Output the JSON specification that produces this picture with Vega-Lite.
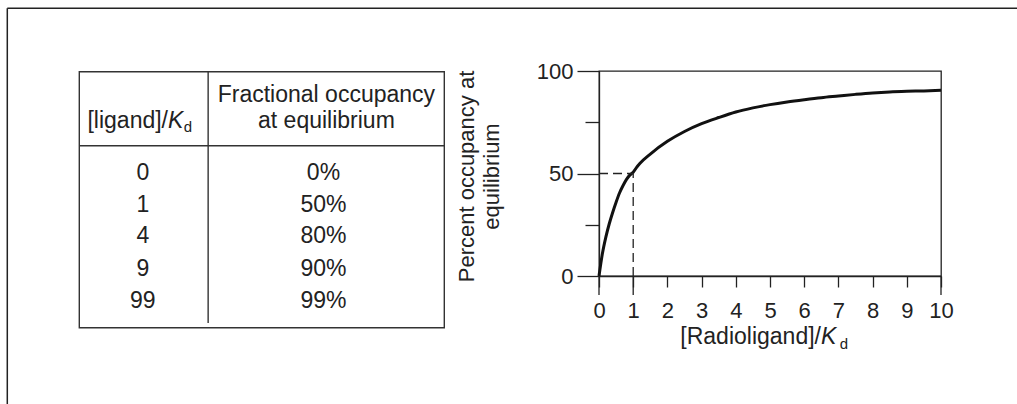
{
  "$schema": "https://vega.github.io/schema/vega-lite/v6.json",
  "width": 342,
  "height": 205,
  "autosize": "none",
  "padding": {"left": 599, "top": 71, "right": 76, "bottom": 128},
  "background": "white",
  "config": {
    "font": "Liberation Sans",
    "view": {"stroke": "#222", "strokeWidth": 1.3},
    "text": {"font": "Liberation Sans", "color": "#222"},
    "axis": {"labelOverlap": false, "labelSeparation": 0}
  },
  "datasets": {
    "curve": [
      {"x": 0, "y": 0}, {"x": 0.1, "y": 11}, {"x": 0.2, "y": 19}, {"x": 0.3, "y": 25.5},
      {"x": 0.4, "y": 31}, {"x": 0.5, "y": 36}, {"x": 0.6, "y": 40.5}, {"x": 0.7, "y": 44},
      {"x": 0.8, "y": 47}, {"x": 0.9, "y": 49.2}, {"x": 1, "y": 50.6}, {"x": 1.1, "y": 53},
      {"x": 1.2, "y": 55}, {"x": 1.5, "y": 59.5}, {"x": 2, "y": 65.7}, {"x": 2.5, "y": 70.5},
      {"x": 3, "y": 74.3}, {"x": 3.5, "y": 77.3}, {"x": 4, "y": 80}, {"x": 4.5, "y": 82},
      {"x": 5, "y": 83.6}, {"x": 5.5, "y": 84.9}, {"x": 6, "y": 86}, {"x": 6.5, "y": 87},
      {"x": 7, "y": 87.8}, {"x": 7.5, "y": 88.6}, {"x": 8, "y": 89.3}, {"x": 8.5, "y": 89.8},
      {"x": 9, "y": 90.1}, {"x": 9.5, "y": 90.3}, {"x": 10, "y": 90.6}
    ],
    "guides": [
      {"x": 0, "x2": 1, "y": 50, "y2": 50},
      {"x": 1, "x2": 1, "y": 0, "y2": 50}
    ],
    "longticks": [
      {"x": 0, "y": 0, "y2": -9.3},
      {"x": 1, "y": 0, "y2": -9.3},
      {"x": 10, "y": 0, "y2": -9.3}
    ],
    "xtitle_main": [{"x": 6.49, "y": -33.2, "text": "[Radioligand]/"}],
    "xtitle_k": [{"x": 6.49, "y": -33.2, "text": "K"}],
    "xtitle_d": [{"x": 7.04, "y": -35.6, "text": "d"}],
    "table_box": [{"x": 0, "x2": 100, "y": 0, "y2": 100}],
    "table_lines": [
      {"x": 0, "x2": 100, "y": 28.9, "y2": 28.9},
      {"x": 35.3, "x2": 35.3, "y": 0, "y2": 98.2}
    ],
    "table_cells": [
      {"x": 17.4, "y": 42.3, "text": "0"},
      {"x": 17.4, "y": 54.7, "text": "1"},
      {"x": 17.4, "y": 67.1, "text": "4"},
      {"x": 17.4, "y": 79.8, "text": "9"},
      {"x": 17.4, "y": 92.4, "text": "99"},
      {"x": 66.9, "y": 42.3, "text": "0%"},
      {"x": 66.9, "y": 54.7, "text": "50%"},
      {"x": 66.9, "y": 67.1, "text": "80%"},
      {"x": 66.9, "y": 79.8, "text": "90%"},
      {"x": 66.9, "y": 92.4, "text": "99%"},
      {"x": 67.7, "y": 11.7, "text": "Fractional occupancy"},
      {"x": 67.7, "y": 22.1, "text": "at equilibrium"}
    ],
    "table_head_main": [{"x": 24.3, "y": 22.1, "text": "[ligand]/"}],
    "table_head_k": [{"x": 24.3, "y": 22.1, "text": "K"}],
    "table_head_d": [{"x": 28.6, "y": 23.6, "text": "d"}],
    "frame": [
      {"x": 0, "x2": 1, "y": 0, "y2": 0},
      {"x": 0, "x2": 0, "y": 0, "y2": 1}
    ]
  },
  "layer": [
    {
      "layer": [
        {
          "data": {"name": "curve"},
          "mark": {"type": "line", "color": "#111", "strokeWidth": 3, "interpolate": "monotone"},
          "encoding": {
            "x": {
              "field": "x", "type": "quantitative",
              "scale": {"domain": [0, 10], "nice": false, "zero": false},
              "axis": {
                "values": [0, 1, 2, 3, 4, 5, 6, 7, 8, 9, 10],
                "tickCount": 11,
                "title": null,
                "grid": false,
                "domainColor": "#222", "domainWidth": 1.3,
                "tickColor": "#222", "tickWidth": 1.3,
                "tickSize": 11,
                "labelPadding": 13,
                "labelFont": "Liberation Sans", "labelFontSize": 22, "labelColor": "#222",
                "labelBaseline": "top",
                "labelFlush": false, "labelOverlap": false, "labelSeparation": 0, "labelBound": false
              }
            },
            "y": {
              "field": "y", "type": "quantitative",
              "scale": {"domain": [0, 100], "nice": false, "zero": false},
              "axis": {
                "values": [0, 25, 50, 75, 100],
                "labelExpr": "datum.value % 50 == 0 ? datum.label : ''",
                "grid": false,
                "domainColor": "#222", "domainWidth": 1.3,
                "tickColor": "#222", "tickWidth": 1.3,
                "tickSize": {"condition": {"test": "datum.value % 50 != 0", "value": 14}, "value": 22},
                "labelPadding": 4,
                "labelFont": "Liberation Sans", "labelFontSize": 22, "labelColor": "#222",
                "labelFlush": false, "labelOverlap": false,
                "title": ["Percent occupancy at", "equilibrium"],
                "titleFont": "Liberation Sans", "titleFontSize": 22, "titleFontWeight": "normal",
                "titleColor": "#222",
                "titleX": -132.5, "titleY": 105,
                "titleAngle": -90, "titleAlign": "center", "titleBaseline": "middle",
                "titleLineHeight": 25
              }
            }
          }
        },
        {
          "data": {"name": "guides"},
          "mark": {"type": "rule", "color": "#222", "strokeWidth": 1.3, "strokeDash": [9, 5]},
          "encoding": {
            "x": {"field": "x", "type": "quantitative"},
            "x2": {"field": "x2"},
            "y": {"field": "y", "type": "quantitative"},
            "y2": {"field": "y2"}
          }
        },
        {
          "data": {"name": "longticks"},
          "mark": {"type": "rule", "color": "#222", "strokeWidth": 1.3, "clip": false},
          "encoding": {
            "x": {"field": "x", "type": "quantitative"},
            "y": {"field": "y", "type": "quantitative"},
            "y2": {"field": "y2"}
          }
        },
        {
          "data": {"name": "xtitle_main"},
          "mark": {"type": "text", "fontSize": 23, "align": "right", "baseline": "alphabetic"},
          "encoding": {
            "x": {"field": "x", "type": "quantitative"},
            "y": {"field": "y", "type": "quantitative"},
            "text": {"field": "text"}
          }
        },
        {
          "data": {"name": "xtitle_k"},
          "mark": {"type": "text", "fontSize": 23, "fontStyle": "italic", "align": "left", "baseline": "alphabetic"},
          "encoding": {
            "x": {"field": "x", "type": "quantitative"},
            "y": {"field": "y", "type": "quantitative"},
            "text": {"field": "text"}
          }
        },
        {
          "data": {"name": "xtitle_d"},
          "mark": {"type": "text", "fontSize": 15, "align": "left", "baseline": "alphabetic"},
          "encoding": {
            "x": {"field": "x", "type": "quantitative"},
            "y": {"field": "y", "type": "quantitative"},
            "text": {"field": "text"}
          }
        }
      ]
    },
    {
      "layer": [
        {
          "data": {"name": "table_box"},
          "mark": {"type": "rect", "fill": null, "fillOpacity": 0, "stroke": "#333", "strokeWidth": 1.4},
          "encoding": {
            "x": {"field": "x", "type": "quantitative", "axis": null, "scale": {"domain": [0, 100], "range": [-519.7, -154.7], "nice": false, "zero": false}},
            "x2": {"field": "x2"},
            "y": {"field": "y", "type": "quantitative", "axis": null, "scale": {"domain": [0, 100], "range": [0.7, 256.7], "nice": false, "zero": false}},
            "y2": {"field": "y2"}
          }
        },
        {
          "data": {"name": "table_lines"},
          "mark": {"type": "rule", "color": "#333", "strokeWidth": 1.4},
          "encoding": {
            "x": {"field": "x", "type": "quantitative", "axis": null},
            "x2": {"field": "x2"},
            "y": {"field": "y", "type": "quantitative", "axis": null},
            "y2": {"field": "y2"}
          }
        },
        {
          "data": {"name": "table_cells"},
          "mark": {"type": "text", "fontSize": 23, "align": "center", "baseline": "alphabetic"},
          "encoding": {
            "x": {"field": "x", "type": "quantitative", "axis": null},
            "y": {"field": "y", "type": "quantitative", "axis": null},
            "text": {"field": "text"}
          }
        },
        {
          "data": {"name": "table_head_main"},
          "mark": {"type": "text", "fontSize": 23, "align": "right", "baseline": "alphabetic"},
          "encoding": {
            "x": {"field": "x", "type": "quantitative", "axis": null},
            "y": {"field": "y", "type": "quantitative", "axis": null},
            "text": {"field": "text"}
          }
        },
        {
          "data": {"name": "table_head_k"},
          "mark": {"type": "text", "fontSize": 23, "fontStyle": "italic", "align": "left", "baseline": "alphabetic"},
          "encoding": {
            "x": {"field": "x", "type": "quantitative", "axis": null},
            "y": {"field": "y", "type": "quantitative", "axis": null},
            "text": {"field": "text"}
          }
        },
        {
          "data": {"name": "table_head_d"},
          "mark": {"type": "text", "fontSize": 15, "align": "left", "baseline": "alphabetic"},
          "encoding": {
            "x": {"field": "x", "type": "quantitative", "axis": null},
            "y": {"field": "y", "type": "quantitative", "axis": null},
            "text": {"field": "text"}
          }
        }
      ]
    },
    {
      "data": {"name": "frame"},
      "mark": {"type": "rule", "color": "#222", "strokeWidth": 1.5},
      "encoding": {
        "x": {"field": "x", "type": "quantitative", "axis": null, "scale": {"domain": [0, 1], "range": [-591.7, 418], "nice": false, "zero": false}},
        "x2": {"field": "x2"},
        "y": {"field": "y", "type": "quantitative", "axis": null, "scale": {"domain": [0, 1], "range": [-62.7, 333], "nice": false, "zero": false}},
        "y2": {"field": "y2"}
      }
    }
  ],
  "resolve": {"scale": {"x": "independent", "y": "independent"}}
}
